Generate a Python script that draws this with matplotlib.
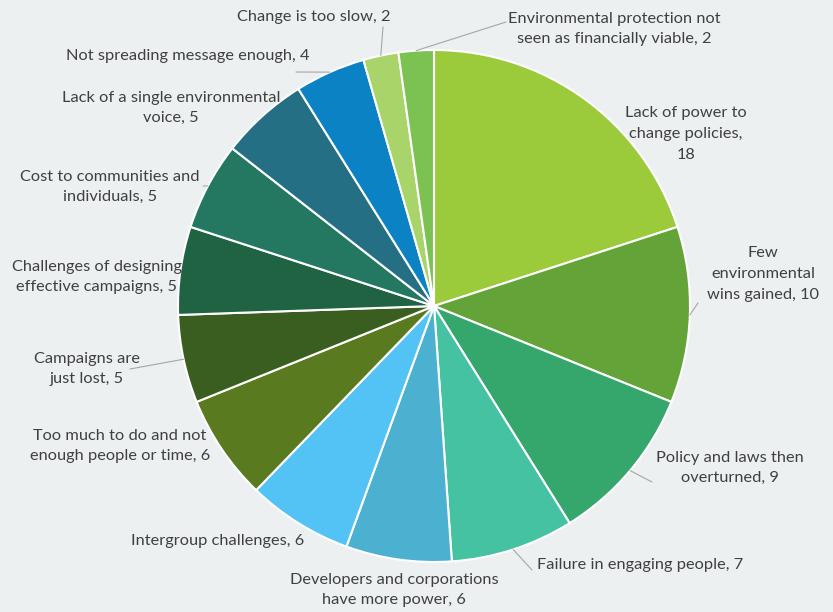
import numpy as np
import matplotlib
matplotlib.use("Agg")
import matplotlib.pyplot as plt

W, H = 833, 612
CX, CY, R = 434, 306, 256  # pie centre / radius in pixels

labels = [
    "Lack of power to\nchange policies,\n18",
    "Few\nenvironmental\nwins gained, 10",
    "Policy and laws then\noverturned, 9",
    "Failure in engaging people, 7",
    "Developers and corporations\nhave more power, 6",
    "Intergroup challenges, 6",
    "Too much to do and not\nenough people or time, 6",
    "Campaigns are\njust lost, 5",
    "Challenges of designing\neffective campaigns, 5",
    "Cost to communities and\nindividuals, 5",
    "Lack of a single environmental\nvoice, 5",
    "Not spreading message enough, 4",
    "Change is too slow, 2",
    "Environmental protection not\nseen as financially viable, 2",
]
values = [18, 10, 9, 7, 6, 6, 6, 5, 5, 5, 5, 4, 2, 2]
colors = ["#9bcb3a", "#64a337", "#36a76c", "#44c2a2", "#4cb1d0", "#53c3f6",
          "#5a7a1f", "#3a5e20", "#1f6343", "#247760", "#246f84", "#0b82c4",
          "#a9d46a", "#7cc253"]

# label centre (px), alignment, leader end (px) or None
label_pos = [
    ((686, 134), "center", None),
    ((763, 274), "center", (698, 303)),
    ((730, 468), "center", (652, 482)),
    ((537, 565), "left", (532, 570)),
    ((394, 590), "center", None),
    ((218, 541), "center", None),
    ((120, 446), "center", None),
    ((87, 369), "center", (130, 369)),
    ((97, 277), "center", None),
    ((110, 187), "center", (203, 186)),
    ((171, 108), "center", None),
    ((188, 56), "center", (296, 72)),
    ((314, 17), "center", (383, 27)),
    ((614, 29), "center", (506, 22)),
]

plt.rcParams["font.family"] = ["Lato", "DejaVu Sans"]
bg = "#ecf0f1"
fig = plt.figure(figsize=(W / 100, H / 100), dpi=100, facecolor=bg)
ax = fig.add_axes([(CX - R) / W, (H - CY - R) / H, 2 * R / W, 2 * R / H])
ax.set_facecolor(bg)

wedges, _ = ax.pie(values, colors=colors, startangle=90, counterclock=False,
                   radius=1, wedgeprops=dict(edgecolor="white", linewidth=1.5))
ax.set_xlim(-1, 1)
ax.set_ylim(-1, 1)
ax.axis("off")

def px2fig(p):
    return (p[0] / W, 1 - p[1] / H)

for w, lab, (pos, ha, lead) in zip(wedges, labels, label_pos):
    ang = np.deg2rad((w.theta1 + w.theta2) / 2)
    edge = (np.cos(ang), np.sin(ang))
    if lead is not None:
        ax.annotate("", xy=edge, xycoords="data",
                    xytext=px2fig(lead), textcoords="figure fraction",
                    arrowprops=dict(arrowstyle="-", color="#a6a6a6", lw=0.8,
                                    shrinkA=0, shrinkB=0))
    fig.text(*px2fig(pos), lab, ha=ha, va="center", fontsize=11.8,
             color="#404040", linespacing=1.6, multialignment="center")

fig.savefig("out.png", dpi=100, facecolor=bg)
